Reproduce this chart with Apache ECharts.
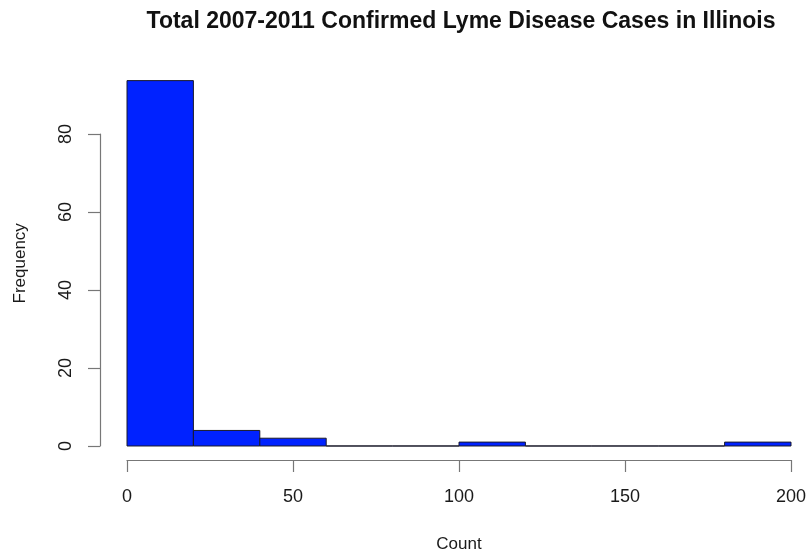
<!DOCTYPE html>
<html><head><meta charset="utf-8">
<script src="https://cdn.jsdelivr.net/npm/echarts@6/dist/echarts.min.js"></script>
<style>html,body{margin:0;padding:0;background:#fff}#c{width:812px;height:557px}</style>
</head><body><div id="c"></div>
<script>
const binEdges = [0, 20, 40, 60, 80, 100, 120, 140, 160, 180, 200];
const counts = [94, 4, 2, 0, 0, 1, 0, 0, 0, 1];
const xTicks = [0, 50, 100, 150, 200];
const yTicks = [0, 20, 40, 60, 80];
const titleText = 'Total 2007-2011 Confirmed Lyme Disease Cases in Illinois';
const xName = 'Count';
const yName = 'Frequency';

const histData = counts.map((c, i) => [binEdges[i], binEdges[i + 1], c]);
const maxC = Math.max(...counts);
const ext = maxC * 0.04;
const font = 'Liberation Sans, Arial, Helvetica, sans-serif';
const axisColor = '#777';
const textColor = '#1a1a1a';

const chart = echarts.init(document.getElementById('c'), null, {renderer: 'canvas'});
chart.setOption({
  backgroundColor: '#fff',
  animation: false,
  title: {
    text: titleText, left: 456, top: 5, textAlign: 'center',
    textStyle: {fontFamily: font, fontWeight: 'bold', fontSize: 23, color: '#111'}
  },
  grid: [
    {left: 127, width: 664, top: 66, height: 394.6, outerBoundsMode: 'none', containLabel: false},
    {left: 100, width: 10, top: 134, height: 312, outerBoundsMode: 'none', containLabel: false}
  ],
  xAxis: [
    {
      gridIndex: 0, type: 'value', min: binEdges[0], max: binEdges[binEdges.length - 1], interval: 50,
      position: 'bottom', offset: -0.6,
      axisLine: {show: true, onZero: false, lineStyle: {color: axisColor, width: 1.2}},
      axisTick: {show: true, length: 12, lineStyle: {color: axisColor, width: 1.2}},
      axisLabel: {fontFamily: font, fontSize: 18, color: textColor, margin: 28,
        formatter: v => xTicks.includes(v) ? String(v) : ''},
      splitLine: {show: false},
      name: xName, nameLocation: 'middle', nameGap: 76,
      nameTextStyle: {fontFamily: font, fontSize: 17, color: textColor}
    },
    {gridIndex: 1, type: 'value', min: 0, max: 1, show: false}
  ],
  yAxis: [
    {
      gridIndex: 0, type: 'value', min: -ext, max: maxC + ext,
      axisLine: {show: false}, axisTick: {show: false}, axisLabel: {show: false}, splitLine: {show: false},
      name: yName, nameLocation: 'middle', nameGap: 98, nameRotate: 90,
      nameTextStyle: {fontFamily: font, fontSize: 17, color: textColor}
    },
    {
      gridIndex: 1, type: 'value', min: yTicks[0], max: yTicks[yTicks.length - 1], interval: 20,
      position: 'left',
      axisLine: {show: true, onZero: false, lineStyle: {color: axisColor, width: 1.2}},
      axisTick: {show: true, length: 12, lineStyle: {color: axisColor, width: 1.2}},
      axisLabel: {fontFamily: font, fontSize: 18, color: textColor, rotate: 90, margin: 25},
      splitLine: {show: false}
    }
  ],
  series: [{
    type: 'custom',
    xAxisIndex: 0, yAxisIndex: 0,
    data: histData,
    renderItem: function (params, api) {
      const p0 = api.coord([api.value(0), api.value(2)]);
      const p1 = api.coord([api.value(1), 0]);
      return {
        type: 'rect',
        shape: {x: p0[0], y: p0[1], width: p1[0] - p0[0], height: p1[1] - p0[1]},
        style: {fill: '#0022ff', stroke: '#1a1a2a', lineWidth: 1}
      };
    }
  }]
});
</script></body></html>
